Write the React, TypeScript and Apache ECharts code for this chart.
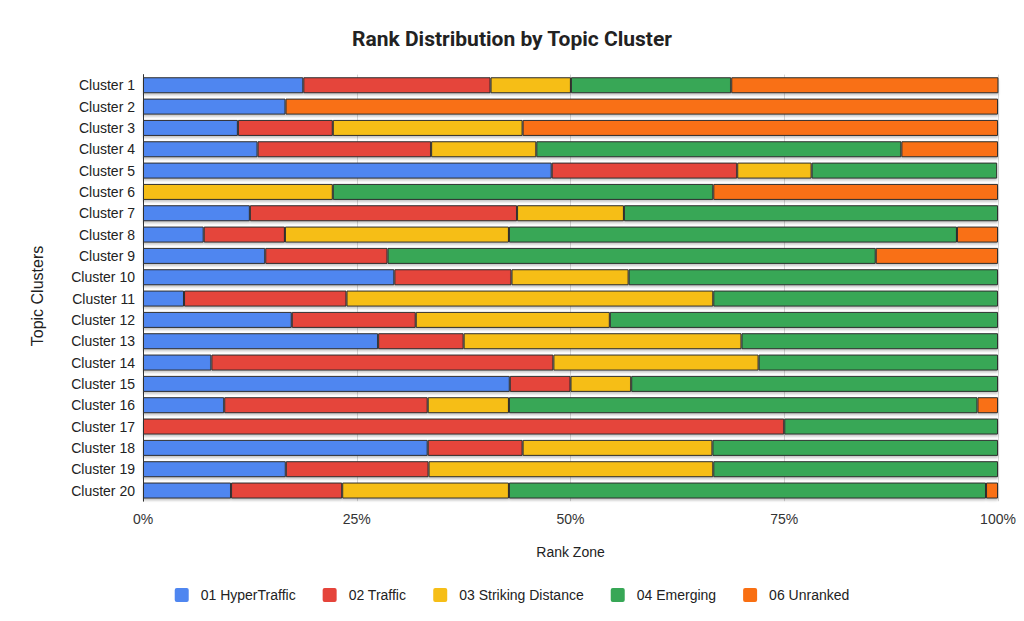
import React, { useEffect, useRef } from "react";
import * as echarts from "echarts";

const categories = [
  "Cluster 1", "Cluster 2", "Cluster 3", "Cluster 4", "Cluster 5",
  "Cluster 6", "Cluster 7", "Cluster 8", "Cluster 9", "Cluster 10",
  "Cluster 11", "Cluster 12", "Cluster 13", "Cluster 14", "Cluster 15",
  "Cluster 16", "Cluster 17", "Cluster 18", "Cluster 19", "Cluster 20",
];

const seriesNames = [
  "01 HyperTraffic",
  "02 Traffic",
  "03 Striking Distance",
  "04 Emerging",
  "06 Unranked",
];

const hyperTraffic = [18.75, 16.67, 11.1, 13.4, 47.8, 0, 12.5, 7.1, 14.3, 29.4, 4.8, 17.4, 27.5, 8, 42.9, 9.5, 0, 33.3, 16.7, 10.3];
const traffic = [21.9, 0, 11.1, 20.3, 21.7, 0, 31.25, 9.5, 14.3, 13.7, 19.0, 14.5, 10, 40, 7.1, 23.8, 75, 11.1, 16.7, 13.0];
const striking = [9.4, 0, 22.2, 12.3, 8.7, 22.2, 12.5, 26.2, 0, 13.7, 42.9, 22.7, 32.5, 24, 7.1, 9.5, 0, 22.2, 33.3, 19.5];
const emerging = [18.75, 0, 0, 42.7, 21.7, 44.5, 43.75, 52.4, 57.1, 43.2, 33.3, 45.4, 30, 28, 42.9, 54.8, 25, 33.4, 33.3, 55.8];
const unranked = [31.25, 83.33, 55.6, 11.3, 0, 33.3, 0, 4.8, 14.3, 0, 0, 0, 0, 0, 0, 2.4, 0, 0, 0, 1.4];

const xTicks = ["0%", "25%", "50%", "75%", "100%"];

const colors = ["#4F86F0", "#E5443B", "#F6BE17", "#37A756", "#F96F12"];

const yAxisTitle = "Topic Clusters";

export default function App() {
  const ref = useRef<HTMLDivElement>(null);

  useEffect(() => {
    document.body.style.margin = "0";
    if (!ref.current) return;
    const chart = echarts.init(ref.current, undefined, { renderer: "svg" });
    const values = [hyperTraffic, traffic, striking, emerging, unranked];
    const font = "Arial, 'Liberation Sans', sans-serif";
    chart.setOption({
      animation: false,
      backgroundColor: "#ffffff",
      color: colors,
      title: {
        text: "Rank Distribution by Topic Cluster",
        left: "center",
        top: 23,
        textStyle: {
          fontFamily: "Roboto, sans-serif",
          fontWeight: "bold",
          fontSize: 21,
          color: "#222222",
        },
      },
      legend: {
        data: seriesNames,
        left: "center",
        top: 583,
        itemWidth: 14,
        itemHeight: 14,
        itemGap: 27,
        icon: "path://M2,0 H12 A2,2 0 0 1 14,2 V12 A2,2 0 0 1 12,14 H2 A2,2 0 0 1 0,12 V2 A2,2 0 0 1 2,0 Z",
        itemStyle: { borderWidth: 0, shadowBlur: 0, shadowOffsetY: 0, shadowColor: "transparent" },
        textStyle: {
          fontFamily: font,
          fontSize: 14,
          color: "#222222",
          padding: [0, 0, 0, 7],
        },
      },
      graphic: [
        {
          type: "text",
          x: 37,
          y: 296,
          rotation: Math.PI / 2,
          style: {
            text: yAxisTitle,
            fontFamily: font,
            fontSize: 16,
            fill: "#222222",
            align: "center",
            verticalAlign: "middle",
          },
        },
      ],
      grid: {
        left: 143,
        right: 26,
        top: 74.6,
        bottom: 119.8,
        containLabel: false,
      },
      xAxis: {
        type: "value",
        min: 0,
        max: 100,
        interval: 25,
        name: "Rank Zone",
        nameLocation: "middle",
        nameGap: 44,
        nameTextStyle: { fontFamily: font, fontSize: 14, color: "#222222" },
        axisLine: { show: false },
        axisTick: { show: false },
        axisLabel: {
          margin: 11,
          fontFamily: font,
          fontSize: 14,
          color: "#333333",
          formatter: (v: number) => xTicks[Math.round(v / 25)] ?? v + "%",
        },
        splitLine: { show: true, lineStyle: { color: "#d6d6d6", width: 1 } },
      },
      yAxis: {
        type: "category",
        data: categories,
        inverse: true,
        axisLine: { show: true, lineStyle: { color: "#333333", width: 1 } },
        axisTick: { show: false },
        axisLabel: {
          margin: 8,
          fontFamily: font,
          fontSize: 14,
          color: "#222222",
        },
        splitLine: { show: false },
      },
      series: seriesNames.map((name, i) => ({
        name,
        type: "bar",
        stack: "total",
        barWidth: 16,
        data: values[i],
        itemStyle: {
          color: colors[i],
          borderColor: "#2e2e2e",
          borderWidth: 1,
          shadowColor: "rgba(0,0,0,0.22)",
          shadowBlur: 2,
          shadowOffsetY: 2,
        },
        emphasis: { disabled: true },
      })),
    });
    return () => chart.dispose();
  }, []);

  return <div ref={ref} style={{ width: 1024, height: 621 }} />;
}
